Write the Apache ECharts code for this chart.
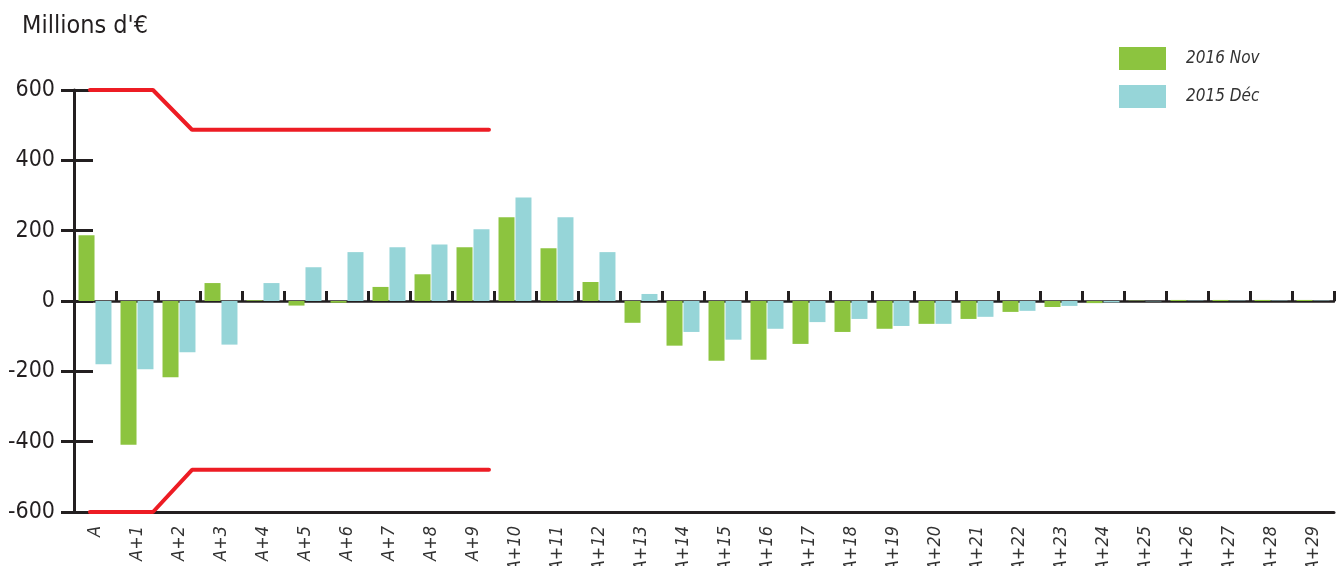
<!DOCTYPE html>
<html>
<head>
<meta charset="utf-8">
<script src="https://cdn.jsdelivr.net/npm/echarts@6/dist/echarts.min.js"></script>
<style>
  html, body { margin: 0; padding: 0; background: #fff; }
  #chart { width: 1336px; height: 566px; }
</style>
</head>
<body>
<div id="chart"></div>
<script>
// categories A .. A+29
const categories = ['A', 'A+1', 'A+2', 'A+3', 'A+4', 'A+5', 'A+6', 'A+7', 'A+8', 'A+9',
  'A+10', 'A+11', 'A+12', 'A+13', 'A+14', 'A+15', 'A+16', 'A+17', 'A+18', 'A+19',
  'A+20', 'A+21', 'A+22', 'A+23', 'A+24', 'A+25', 'A+26', 'A+27', 'A+28', 'A+29'];

const nov2016 = [187, -409, -217, 51, 2, -13, -5, 40, 76, 153, 238, 150, 54, -62, -127,
  -170, -167, -122, -88, -79, -65, -51, -31, -17, -6, 1, 3, 3, 3, 3];
const dec2015 = [-180, -194, -146, -124, 51, 96, 139, 153, 161, 204, 294, 238, 139, 20, -88,
  -110, -79, -60, -51, -71, -65, -45, -28, -14, -4, -1, 1, 1, 1, 1];

// limites (rouge), x en unites de categorie
const limitX = [0.38, 1.88, 2.81, 9.88];
const limitHaut = [600, 600, 487, 487];
const limitBas = [-600, -600, -480, -480];

const yTicks = [-600, 600, 200]; // min, max, interval

const dark = '#231f20';
const font = "'Liberation Sans Narrow', 'DejaVu Sans Condensed', sans-serif";

const pairs = (xs, ys) => xs.map((x, i) => [x, ys[i]]);

const chart = echarts.init(document.getElementById('chart'));
chart.setOption({
  animation: false,
  title: {
    text: "Millions d'€",
    left: 22,
    top: 14,
    padding: 0,
    textStyle: { fontFamily: font, fontSize: 25, fontWeight: 'normal', color: dark }
  },
  legend: {
    orient: 'vertical',
    left: 1119,
    top: 47,
    padding: 0,
    itemWidth: 47,
    itemHeight: 23,
    itemGap: 15,
    icon: 'rect',
    data: ['2016 Nov', '2015 Déc'],
    textStyle: { fontFamily: font, fontSize: 17, fontStyle: 'italic', color: '#333', padding: [0, 0, 0, 15] }
  },
  grid: { left: 74, right: 2, top: 90, bottom: 54, outerBoundsMode: 'none', containLabel: false },
  xAxis: [
    {
      type: 'category',
      data: categories,
      position: 'bottom',
      axisLine: { onZero: false, lineStyle: { color: dark, width: 3 } },
      axisTick: { show: false },
      axisLabel: {
        rotate: 90,
        margin: 14,
        fontFamily: font,
        fontSize: 18,
        fontStyle: 'italic',
        color: '#333'
      }
    },
    {
      type: 'category',
      data: categories,
      position: 'bottom',
      axisLine: { onZero: true, lineStyle: { color: dark, width: 2.5 } },
      axisTick: { show: true, inside: true, length: 10, lineStyle: { color: dark, width: 3 } },
      axisLabel: { show: false }
    },
    {
      type: 'value',
      min: 0,
      max: categories.length,
      show: false
    }
  ],
  yAxis: [
    {
      type: 'value',
      position: 'left',
      min: yTicks[0],
      max: yTicks[1],
      interval: yTicks[2],
      axisLine: { show: true, lineStyle: { color: dark, width: 3 } },
      axisTick: { show: true, length: 13, lineStyle: { color: dark, width: 3 } },
      splitLine: { show: false },
      axisLabel: { margin: 19, fontFamily: font, fontSize: 23, color: dark }
    },
    {
      type: 'value',
      position: 'left',
      min: yTicks[0],
      max: yTicks[1],
      interval: yTicks[2],
      axisLine: { show: false },
      axisTick: { show: true, inside: true, length: 19, lineStyle: { color: dark, width: 3 } },
      splitLine: { show: false },
      axisLabel: { show: false }
    }
  ],
  series: [
    {
      name: '2016 Nov',
      type: 'bar',
      data: nov2016,
      barWidth: 16,
      barGap: '6%',
      itemStyle: { color: '#8cc43f' }
    },
    {
      name: '2015 Déc',
      type: 'bar',
      data: dec2015,
      barWidth: 16,
      barGap: '6%',
      itemStyle: { color: '#96d5d8' }
    },
    {
      type: 'line',
      xAxisIndex: 2,
      data: pairs(limitX, limitHaut),
      symbol: 'none',
      lineStyle: { color: '#ed1c24', width: 4, cap: 'round' },
      z: 5
    },
    {
      type: 'line',
      xAxisIndex: 2,
      data: pairs(limitX, limitBas),
      symbol: 'none',
      lineStyle: { color: '#ed1c24', width: 4, cap: 'round' },
      z: 5
    }
  ]
});
</script>
</body>
</html>
